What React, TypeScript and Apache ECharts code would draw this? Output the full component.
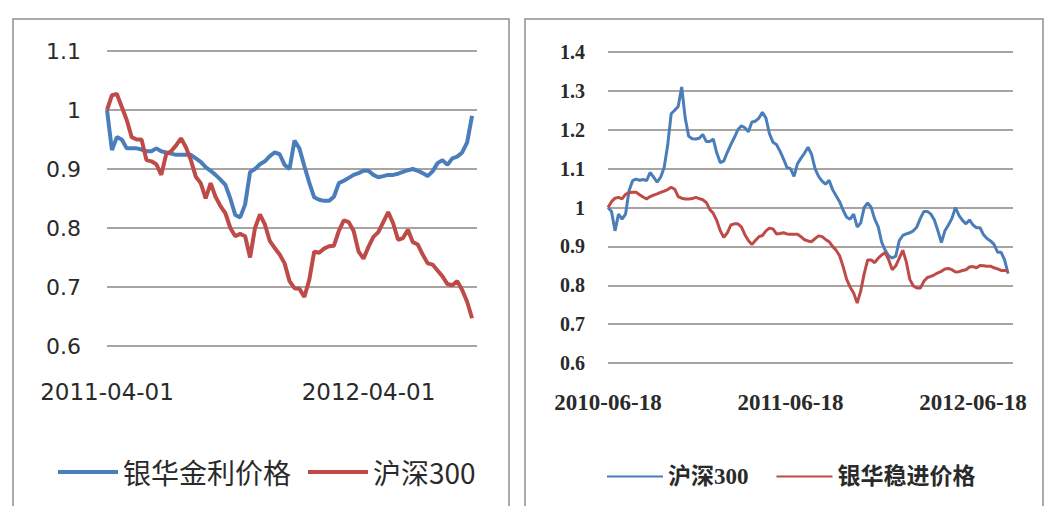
import React, { useEffect, useRef } from "react";
import * as echarts from "echarts";

// ---- Left panel data ----
const LEFT_X_LABELS = ["2011-04-01", "2012-04-01"];
const LEFT_NAMES = ["银华金利价格", "沪深300"];
const LEFT_FUND = [
  1.0, 0.932, 0.954, 0.95, 0.935, 0.935, 0.935, 0.933, 0.93, 0.93,
  0.935, 0.93, 0.928, 0.926, 0.924, 0.924, 0.924, 0.924, 0.918, 0.912,
  0.903, 0.897, 0.89, 0.882, 0.873, 0.85, 0.822, 0.818, 0.84, 0.895,
  0.9, 0.908, 0.913, 0.922, 0.928, 0.925, 0.907, 0.9, 0.948, 0.935,
  0.905, 0.877, 0.852, 0.848, 0.846, 0.846, 0.853, 0.876, 0.88, 0.885,
  0.89, 0.893, 0.897, 0.897, 0.89, 0.886, 0.888, 0.89, 0.89, 0.892,
  0.895, 0.898, 0.9, 0.897, 0.893, 0.888, 0.896, 0.91, 0.915, 0.907,
  0.918, 0.921, 0.928, 0.945, 0.99,
];
const LEFT_HS300 = [
  1.0, 1.025, 1.027, 1.005, 0.983, 0.954, 0.95, 0.95, 0.915, 0.913,
  0.908, 0.89, 0.925, 0.93, 0.94, 0.952, 0.937, 0.915, 0.887, 0.876,
  0.85, 0.876, 0.853, 0.837, 0.825, 0.8, 0.786, 0.79, 0.786, 0.75,
  0.8, 0.823, 0.806, 0.778, 0.766, 0.755, 0.74, 0.71, 0.698, 0.697,
  0.683, 0.712, 0.76, 0.758, 0.765, 0.769, 0.77, 0.795, 0.813, 0.81,
  0.795, 0.76, 0.748, 0.768, 0.785, 0.793, 0.81, 0.827, 0.808, 0.78,
  0.783, 0.797, 0.776, 0.772, 0.755, 0.74, 0.738, 0.728, 0.718, 0.705,
  0.703, 0.71, 0.695, 0.675, 0.647,
];

// ---- Right panel data ----
const RIGHT_X_LABELS = ["2010-06-18", "2011-06-18", "2012-06-18"];
const RIGHT_NAMES = ["沪深300", "银华稳进价格"];
const RIGHT_HS300 = [
  1.0, 0.99, 0.94, 0.983, 0.97, 0.983, 1.043, 1.069, 1.073, 1.07,
  1.072, 1.069, 1.09, 1.078, 1.065, 1.078, 1.103, 1.16, 1.241, 1.25,
  1.26, 1.31, 1.23, 1.183, 1.177, 1.176, 1.178, 1.188, 1.17, 1.17,
  1.176, 1.14, 1.115, 1.12, 1.142, 1.162, 1.18, 1.2, 1.21, 1.205,
  1.195, 1.22, 1.222, 1.23, 1.245, 1.23, 1.19, 1.168, 1.162, 1.145,
  1.125, 1.103, 1.1, 1.08, 1.113, 1.127, 1.14, 1.155, 1.137, 1.1,
  1.08, 1.068, 1.06, 1.07, 1.046, 1.03, 1.015, 0.993, 0.975, 0.97,
  0.983, 0.95, 0.96, 1.0, 1.012, 1.0, 0.97, 0.95, 0.91, 0.89,
  0.875, 0.87, 0.875, 0.915, 0.928, 0.932, 0.935, 0.94, 0.95, 0.972,
  0.99, 0.99, 0.983, 0.968, 0.94, 0.91, 0.94, 0.955, 0.972, 1.0,
  0.98, 0.967, 0.958, 0.968, 0.955, 0.948, 0.948, 0.93, 0.92, 0.914,
  0.905, 0.885, 0.885, 0.865, 0.83,
];
const RIGHT_FUND = [
  1.0, 1.015, 1.024, 1.026, 1.022, 1.034, 1.038, 1.039, 1.039, 1.033,
  1.027, 1.022, 1.028, 1.032, 1.035, 1.039, 1.042, 1.046, 1.052, 1.047,
  1.028, 1.024, 1.022, 1.022, 1.023, 1.026, 1.023, 1.02, 1.013, 0.995,
  0.985, 0.966, 0.94, 0.923, 0.935, 0.955, 0.958, 0.958, 0.95, 0.93,
  0.915, 0.905, 0.915, 0.925, 0.928, 0.94, 0.947, 0.945, 0.932, 0.933,
  0.935, 0.932, 0.931, 0.931, 0.931, 0.925, 0.917, 0.914, 0.912, 0.92,
  0.927, 0.925, 0.918, 0.912, 0.9, 0.89, 0.876, 0.848, 0.815, 0.795,
  0.78, 0.754, 0.785, 0.83, 0.865, 0.865, 0.858, 0.87, 0.878, 0.884,
  0.865, 0.84, 0.85, 0.87, 0.89, 0.86, 0.815, 0.798, 0.793, 0.793,
  0.81, 0.82, 0.823, 0.827, 0.832, 0.836, 0.842, 0.843, 0.84, 0.834,
  0.835, 0.838, 0.84, 0.847, 0.848, 0.845, 0.851, 0.85, 0.849, 0.849,
  0.845, 0.842, 0.838, 0.838, 0.837,
];

const BLUE = "#4a7ebb";
const RED = "#be4b48";
const GRID_COLOR = "#8c8682";
const TEXT = "#2a2a2a";

const toPairs = (arr: number[]) => arr.map((v, i) => [i, v]);

function leftOption(): any {
  const step = 53;
  return {
    animation: false,
    backgroundColor: "#ffffff",
    graphic: [
      {
        type: "rect",
        silent: true,
        shape: { x: 13, y: 19, width: 496, height: 520 },
        style: { fill: "transparent", stroke: "#8f8f8f", lineWidth: 1.5 },
      },
    ],
    grid: { left: 107, top: 51, width: 370, height: 295 },
    xAxis: {
      type: "value",
      min: 0,
      max: 75,
      interval: step,
      axisLine: { show: false },
      axisTick: { show: false },
      splitLine: { show: false },
      axisLabel: {
        margin: 34,
        fontSize: 23,
        fontFamily: "DejaVu Sans",
        color: TEXT,
        formatter: (v: number) =>
          v % step === 0 && LEFT_X_LABELS[v / step] ? LEFT_X_LABELS[v / step] : "",
      },
    },
    yAxis: {
      type: "value",
      min: 0.6,
      max: 1.1,
      interval: 0.1,
      axisLine: { show: false },
      axisTick: { show: false },
      splitLine: { lineStyle: { color: GRID_COLOR, width: 1.5 } },
      axisLabel: {
        margin: 26,
        fontSize: 22,
        fontFamily: "DejaVu Sans",
        color: TEXT,
        formatter: (v: number) => String(Math.round(v * 10) / 10),
      },
    },
    legend: {
      left: 53,
      top: 453,
      icon: "rect",
      itemWidth: 60,
      itemHeight: 4,
      itemGap: 17,
      textStyle: { fontSize: 28, fontFamily: "Noto Sans CJK SC", color: TEXT, padding: [0, 0, 0, 0] },
      data: LEFT_NAMES,
    },
    series: [
      {
        name: LEFT_NAMES[0],
        type: "line",
        data: toPairs(LEFT_FUND),
        showSymbol: false,
        symbol: "none",
        color: BLUE,
        lineStyle: { width: 4, color: BLUE },
      },
      {
        name: LEFT_NAMES[1],
        type: "line",
        data: toPairs(LEFT_HS300),
        showSymbol: false,
        symbol: "none",
        color: RED,
        lineStyle: { width: 4, color: RED },
      },
    ],
  };
}

function rightOption(): any {
  const step = 52;
  return {
    animation: false,
    backgroundColor: "#ffffff",
    graphic: [
      {
        type: "rect",
        silent: true,
        shape: { x: 7, y: 19, width: 518, height: 520 },
        style: { fill: "transparent", stroke: "#8f8f8f", lineWidth: 1.5 },
      },
    ],
    grid: { left: 90, top: 52, width: 405, height: 311 },
    xAxis: {
      type: "value",
      min: 0,
      max: 115.4,
      interval: step,
      axisLine: { show: false },
      axisTick: { show: false },
      splitLine: { show: false },
      axisLabel: {
        margin: 28,
        fontSize: 23,
        fontWeight: "bold",
        fontFamily: "Liberation Serif",
        color: TEXT,
        formatter: (v: number) =>
          v % step === 0 && RIGHT_X_LABELS[v / step] ? RIGHT_X_LABELS[v / step] : "",
      },
    },
    yAxis: {
      type: "value",
      min: 0.6,
      max: 1.4,
      interval: 0.1,
      axisLine: { show: false },
      axisTick: { show: false },
      splitLine: { lineStyle: { color: GRID_COLOR, width: 1.5 } },
      axisLabel: {
        margin: 23,
        fontSize: 20,
        fontWeight: "bold",
        fontFamily: "Liberation Serif",
        color: TEXT,
        formatter: (v: number) => String(Math.round(v * 10) / 10),
      },
    },
    legend: {
      left: 84,
      top: 460,
      icon: "rect",
      itemWidth: 56,
      itemHeight: 2,
      itemGap: 28,
      textStyle: {
        fontSize: 23,
        fontWeight: "bold",
        fontFamily: "Liberation Serif, Noto Sans CJK SC",
        color: TEXT,
      },
      data: RIGHT_NAMES,
    },
    series: [
      {
        name: RIGHT_NAMES[0],
        type: "line",
        data: toPairs(RIGHT_HS300),
        showSymbol: false,
        symbol: "none",
        color: BLUE,
        lineStyle: { width: 3, color: BLUE },
      },
      {
        name: RIGHT_NAMES[1],
        type: "line",
        data: toPairs(RIGHT_FUND),
        showSymbol: false,
        symbol: "none",
        color: RED,
        lineStyle: { width: 3, color: RED },
      },
    ],
  };
}

export default function App() {
  const leftRef = useRef<HTMLDivElement>(null);
  const rightRef = useRef<HTMLDivElement>(null);

  useEffect(() => {
    const l = echarts.init(leftRef.current!, undefined, { renderer: "svg" });
    const r = echarts.init(rightRef.current!, undefined, { renderer: "svg" });
    l.setOption(leftOption());
    r.setOption(rightOption());
    return () => {
      l.dispose();
      r.dispose();
    };
  }, []);

  return (
    <div style={{ position: "fixed", left: 0, top: 0, width: 1051, height: 506, background: "#fff" }}>
      <div ref={leftRef} style={{ position: "absolute", left: 0, top: 0, width: 518, height: 506 }} />
      <div ref={rightRef} style={{ position: "absolute", left: 518, top: 0, width: 533, height: 506 }} />
    </div>
  );
}
